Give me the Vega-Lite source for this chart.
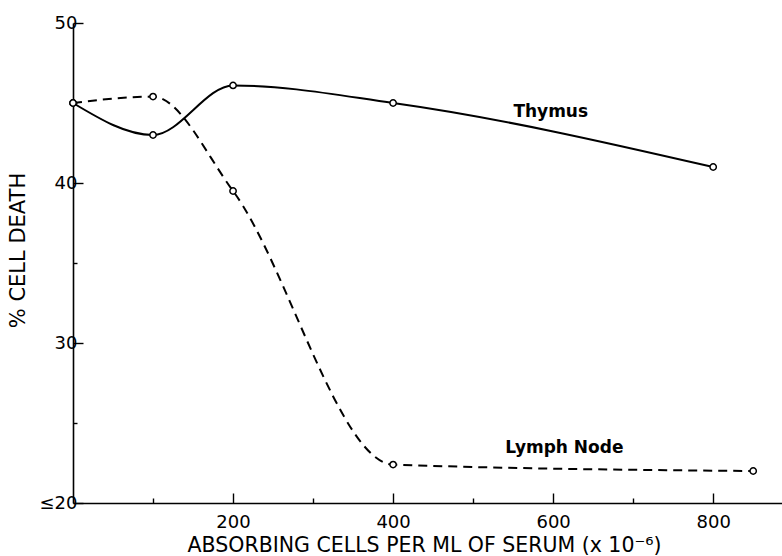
{
  "$schema": "https://vega.github.io/schema/vega-lite/v6.json",
  "width": 709,
  "height": 480,
  "autosize": "none",
  "padding": {"left": 73, "top": 23, "right": 0, "bottom": 53},
  "background": "white",
  "config": {
    "view": {"stroke": null},
    "font": "DejaVu Sans",
    "axis": {"domainColor": "black", "domainWidth": 1.6, "tickColor": "black", "tickWidth": 1.4, "labelColor": "black", "titleColor": "black", "grid": false, "labelFont": "DejaVu Sans", "titleFont": "DejaVu Sans", "titleFontWeight": "normal"}
  },
  "datasets": {
    "curves": [
      {"tissue": "Thymus", "cells": 0, "death": 45.0},
      {"tissue": "Thymus", "cells": 100, "death": 43.0},
      {"tissue": "Thymus", "cells": 200, "death": 46.1},
      {"tissue": "Thymus", "cells": 400, "death": 45.0},
      {"tissue": "Thymus", "cells": 800, "death": 41.0},
      {"tissue": "Lymph Node", "cells": 0, "death": 45.0},
      {"tissue": "Lymph Node", "cells": 100, "death": 45.4},
      {"tissue": "Lymph Node", "cells": 200, "death": 39.5},
      {"tissue": "Lymph Node", "cells": 400, "death": 22.4},
      {"tissue": "Lymph Node", "cells": 850, "death": 22.0}
    ],
    "labels": [
      {"label": "Thymus", "cells": 597, "death": 44.1},
      {"label": "Lymph Node", "cells": 614, "death": 23.15}
    ]
  },
  "layer": [
    {
      "data": {"name": "curves"},
      "transform": [{"filter": "datum.tissue === 'Lymph Node'"}],
      "mark": {"type": "line", "interpolate": "monotone", "strokeDash": [9, 6], "strokeWidth": 2, "color": "black"},
      "encoding": {
        "x": {
          "field": "cells", "type": "quantitative",
          "scale": {"domain": [0, 886], "nice": false, "zero": false},
          "axis": {
            "orient": "bottom",
            "values": [200, 400, 600, 800],
            "tickSize": -10,
            "labelFontSize": 18,
            "labelPadding": 20,
            "title": "ABSORBING CELLS PER ML OF SERUM (x 10⁻⁶)",
            "titleFontSize": 20.5,
            "titleBaseline": "alphabetic",
            "titleX": 351,
            "titleY": 48
          }
        },
        "y": {
          "field": "death", "type": "quantitative",
          "scale": {"domain": [20, 50], "nice": false, "zero": false},
          "axis": {
            "orient": "left",
            "values": [20, 30, 40, 50],
            "tickSize": -10,
            "labelExpr": "datum.value === 20 ? '≤20' : datum.label",
            "labelFontSize": 18,
            "labelPadding": 6,
            "title": "% CELL DEATH",
            "titleFontSize": 21,
            "titleBaseline": "alphabetic",
            "titleAngle": -90,
            "titleX": -49,
            "titleY": 227
          }
        }
      }
    },
    {
      "data": {"name": "curves"},
      "transform": [{"filter": "datum.tissue === 'Thymus'"}],
      "mark": {"type": "line", "interpolate": "monotone", "strokeWidth": 2, "color": "black"},
      "encoding": {
        "x": {"field": "cells", "type": "quantitative",
          "axis": {"orient": "bottom", "values": [100, 300, 500, 700], "tickSize": -5, "labels": false, "title": null, "domain": false}},
        "y": {"field": "death", "type": "quantitative",
          "axis": {"orient": "left", "values": [25, 35, 45], "tickSize": -4, "labels": false, "title": null, "domain": false}}
      }
    },
    {
      "data": {"name": "curves"},
      "mark": {"type": "point", "shape": "circle", "filled": true, "fill": "white", "stroke": "black", "strokeWidth": 1.5, "size": 40, "opacity": 1},
      "encoding": {
        "x": {"field": "cells", "type": "quantitative", "axis": null},
        "y": {"field": "death", "type": "quantitative", "axis": null}
      }
    },
    {
      "data": {"name": "labels"},
      "mark": {"type": "text", "font": "DejaVu Sans", "fontSize": 17, "fontWeight": "bold", "align": "center", "baseline": "alphabetic", "color": "black"},
      "encoding": {
        "x": {"field": "cells", "type": "quantitative", "axis": null},
        "y": {"field": "death", "type": "quantitative", "axis": null},
        "text": {"field": "label"}
      }
    }
  ],
  "resolve": {"axis": {"x": "independent", "y": "independent"}}
}
